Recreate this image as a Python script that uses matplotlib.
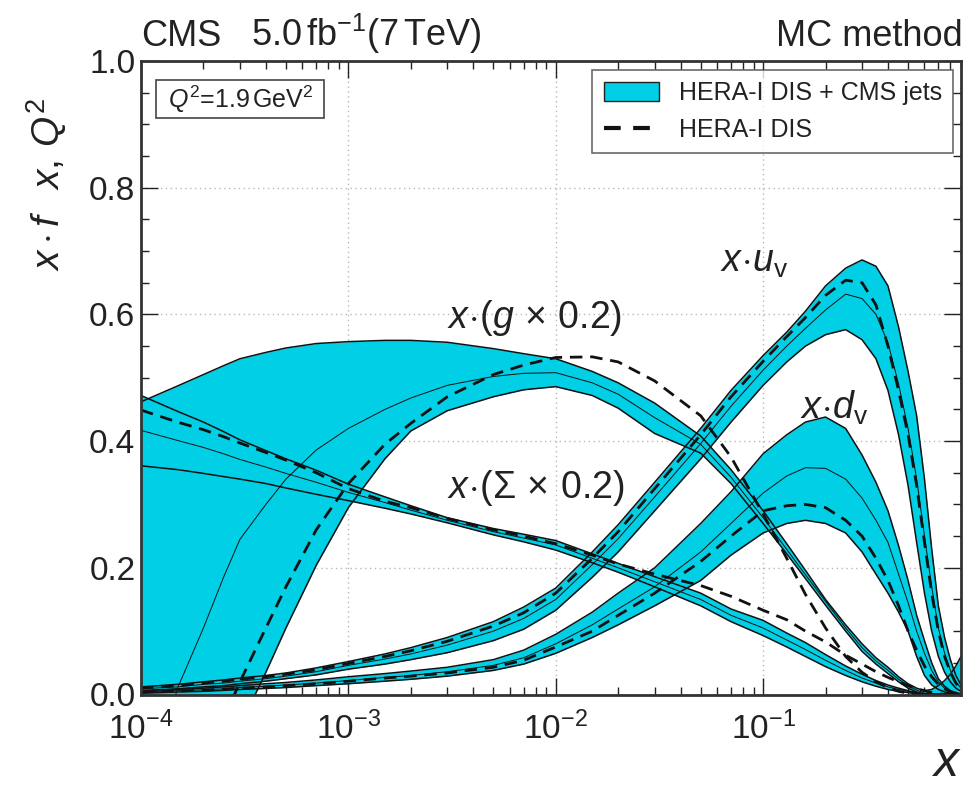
import numpy as np
import matplotlib
matplotlib.use('Agg')
import matplotlib.pyplot as plt
from matplotlib.patches import Patch, Rectangle
from matplotlib.lines import Line2D
from matplotlib.ticker import LogLocator, MultipleLocator, NullFormatter, FormatStrFormatter

plt.rcParams['font.family'] = ['Liberation Sans', 'DejaVu Sans']
plt.rcParams['mathtext.fontset'] = 'custom'
plt.rcParams['mathtext.rm'] = 'Liberation Sans'
plt.rcParams['mathtext.it'] = 'Liberation Sans:italic'
plt.rcParams['mathtext.bf'] = 'Liberation Sans:bold'

# ---------------- data ----------------
x = [1e-4, 1.5e-4, 2e-4, 2.5e-4, 3e-4, 4e-4, 5e-4, 7e-4, 1e-3, 1.5e-3, 2e-3, 3e-3, 5e-3, 7e-3,
     1e-2, 1.5e-2, 2e-2, 3e-2, 5e-2, 7e-2, 0.1, 0.13, 0.16, 0.2, 0.25, 0.3, 0.35,
     0.4, 0.45, 0.5, 0.55, 0.6, 0.65, 0.7, 0.75, 0.8, 0.85, 0.9]

# gluon x 0.2
g_hi = [0.462, 0.487, 0.505, 0.519, 0.530, 0.540, 0.547, 0.554, 0.557, 0.559, 0.559, 0.556, 0.546, 0.538,
        0.530, 0.510, 0.492, 0.460, 0.408, 0.355, 0.290, 0.238, 0.196, 0.150, 0.110, 0.080,
        0.058, 0.043, 0.028, 0.017, 0.010, 0.006, 0.008, 0.014, 0.022, 0.032, 0.045, 0.060]
g_c = [-0.20, 0.010, 0.105, 0.185, 0.245, 0.300, 0.340, 0.386, 0.420, 0.450, 0.468, 0.488, 0.502, 0.507,
       0.508, 0.492, 0.474, 0.437, 0.395, 0.343, 0.279, 0.229, 0.189, 0.147, 0.105, 0.074,
       0.053, 0.038, 0.024, 0.014, 0.007, 0.002, 0.0, 0.0, 0.0, 0.0, 0.0, 0.0]
g_lo = [-0.45, -0.30, -0.18, -0.11, -0.05, 0.035, 0.105, 0.204, 0.295, 0.372, 0.416, 0.448, 0.470, 0.481,
        0.486, 0.472, 0.452, 0.412, 0.381, 0.333, 0.270, 0.222, 0.183, 0.141, 0.100, 0.068,
        0.048, 0.033, 0.020, 0.010, 0.004, 0.0, 0.0, 0.0, 0.0, 0.0, 0.0, 0.0]
g_hera = [-0.40, -0.25, -0.10, -0.04, 0.020, 0.105, 0.170, 0.260, 0.333, 0.395, 0.428, 0.470, 0.505, 0.520,
          0.532, 0.533, 0.525, 0.495, 0.440, 0.375, 0.285, 0.215, 0.158, 0.105, 0.060, 0.035,
          0.020, 0.011, 0.005, 0.002, 0.001, 0.0, 0.0, 0.0, 0.0, 0.0, 0.0, 0.0]

# sea x 0.2
s_hi = [0.472, 0.447, 0.430, 0.415, 0.402, 0.385, 0.372, 0.354, 0.332, 0.312, 0.298, 0.279, 0.262, 0.253,
        0.243, 0.222, 0.207, 0.186, 0.160, 0.135, 0.117, 0.097, 0.082, 0.063, 0.045, 0.032,
        0.022, 0.015, 0.010, 0.006, 0.003, 0.001, 0.0, 0.0, 0.0, 0.0, 0.0, 0.0]
s_c = [0.417, 0.401, 0.390, 0.380, 0.371, 0.359, 0.349, 0.335, 0.319, 0.303, 0.291, 0.275, 0.257, 0.247,
       0.236, 0.215, 0.200, 0.178, 0.150, 0.125, 0.105, 0.086, 0.071, 0.054, 0.038, 0.026,
       0.018, 0.012, 0.008, 0.005, 0.002, 0.001, 0.0, 0.0, 0.0, 0.0, 0.0, 0.0]
s_lo = [0.361, 0.355, 0.349, 0.344, 0.340, 0.333, 0.326, 0.316, 0.306, 0.294, 0.285, 0.271, 0.252, 0.241,
        0.228, 0.208, 0.193, 0.170, 0.140, 0.115, 0.093, 0.075, 0.060, 0.044, 0.030, 0.020,
        0.013, 0.008, 0.005, 0.003, 0.001, 0.0, 0.0, 0.0, 0.0, 0.0, 0.0, 0.0]
s_hera = [0.449, 0.430, 0.418, 0.407, 0.397, 0.382, 0.370, 0.350, 0.325, 0.305, 0.295, 0.278, 0.260, 0.250,
          0.238, 0.220, 0.206, 0.190, 0.172, 0.155, 0.133, 0.118, 0.100, 0.083, 0.062, 0.048,
          0.036, 0.027, 0.020, 0.014, 0.009, 0.006, 0.003, 0.001, 0.0, 0.0, 0.0, 0.0]

# u valence
u_hi = [0.012, 0.016, 0.020, 0.023, 0.026, 0.030, 0.034, 0.042, 0.052, 0.064, 0.074, 0.090, 0.115, 0.138,
        0.168, 0.225, 0.268, 0.335, 0.420, 0.480, 0.535, 0.572, 0.605, 0.645, 0.673, 0.686,
        0.676, 0.645, 0.580, 0.510, 0.440, 0.340, 0.230, 0.140, 0.090, 0.055, 0.030, 0.015]
u_c = [0.009, 0.012, 0.016, 0.018, 0.021, 0.025, 0.029, 0.036, 0.046, 0.056, 0.064, 0.078, 0.100, 0.120,
       0.150, 0.205, 0.246, 0.312, 0.396, 0.455, 0.512, 0.550, 0.578, 0.607, 0.632, 0.625,
       0.600, 0.555, 0.490, 0.420, 0.340, 0.250, 0.170, 0.105, 0.065, 0.038, 0.020, 0.010]
u_lo = [0.006, 0.009, 0.012, 0.014, 0.017, 0.021, 0.025, 0.031, 0.040, 0.048, 0.055, 0.066, 0.085, 0.103,
        0.133, 0.185, 0.225, 0.290, 0.372, 0.430, 0.488, 0.525, 0.550, 0.568, 0.576, 0.560,
        0.530, 0.480, 0.410, 0.330, 0.240, 0.160, 0.100, 0.060, 0.035, 0.020, 0.010, 0.005]
u_hera = [0.010, 0.014, 0.018, 0.021, 0.024, 0.028, 0.032, 0.039, 0.049, 0.060, 0.069, 0.084, 0.108, 0.129,
          0.160, 0.215, 0.257, 0.325, 0.410, 0.470, 0.526, 0.565, 0.595, 0.630, 0.654, 0.650,
          0.615, 0.550, 0.480, 0.410, 0.330, 0.240, 0.160, 0.100, 0.060, 0.035, 0.018, 0.008]

# d valence
d_hi = [0.006, 0.008, 0.010, 0.012, 0.014, 0.017, 0.019, 0.023, 0.028, 0.033, 0.037, 0.043, 0.055, 0.070,
        0.095, 0.130, 0.160, 0.200, 0.270, 0.320, 0.380, 0.410, 0.430, 0.438, 0.420, 0.378,
        0.335, 0.290, 0.235, 0.180, 0.125, 0.085, 0.050, 0.025, 0.013, 0.006, 0.003, 0.001]
d_c = [0.004, 0.006, 0.0075, 0.009, 0.011, 0.013, 0.015, 0.018, 0.022, 0.027, 0.030, 0.036, 0.046, 0.058,
       0.080, 0.110, 0.135, 0.170, 0.225, 0.270, 0.318, 0.345, 0.358, 0.357, 0.340, 0.310,
       0.275, 0.240, 0.190, 0.145, 0.100, 0.065, 0.038, 0.020, 0.010, 0.005, 0.002, 0.001]
d_lo = [0.002, 0.004, 0.005, 0.0065, 0.008, 0.0095, 0.011, 0.014, 0.017, 0.021, 0.024, 0.029, 0.038, 0.048,
        0.065, 0.090, 0.110, 0.140, 0.180, 0.220, 0.255, 0.270, 0.275, 0.270, 0.255, 0.225,
        0.190, 0.160, 0.130, 0.100, 0.060, 0.030, 0.015, 0.008, 0.004, 0.002, 0.001, 0.0]
d_hera = [0.004, 0.0055, 0.007, 0.0085, 0.010, 0.012, 0.014, 0.017, 0.021, 0.026, 0.029, 0.034, 0.043, 0.054,
          0.075, 0.100, 0.125, 0.160, 0.210, 0.250, 0.290, 0.298, 0.300, 0.295, 0.275, 0.250,
          0.215, 0.180, 0.140, 0.100, 0.070, 0.045, 0.028, 0.016, 0.009, 0.004, 0.002, 0.001]

CYAN = '#00cfe6'
INK = '#222222'

# ---------------- figure ----------------
W, H = 966, 791
fig = plt.figure(figsize=(W / 100, H / 100), dpi=100)
ax_l, ax_r, ax_t, ax_b = 141, 961, 61, 694.5
ax = fig.add_axes([ax_l / W, (H - ax_b) / H, (ax_r - ax_l) / W, (ax_b - ax_t) / H])
ax.set_xscale('log')
ax.set_xlim(1e-4, 0.9)
ax.set_ylim(0, 1.0)

bands = [(g_lo, g_hi), (s_lo, s_hi), (u_lo, u_hi), (d_lo, d_hi)]
centrals = [g_c, s_c, u_c, d_c]
heras = [g_hera, s_hera, u_hera, d_hera]

for lo, hi in bands:
    ax.fill_between(x, lo, hi, color=CYAN, lw=0, zorder=2)
for lo, hi in bands:
    ax.plot(x, lo, color='#111111', lw=1.1, zorder=3)
    ax.plot(x, hi, color='#111111', lw=1.1, zorder=3)
for c in centrals:
    ax.plot(x, c, color='#111111', lw=0.7, zorder=3)
for d in heras:
    ax.plot(x, d, color='#111111', lw=2.0, ls=(0, (4.5, 2.8)), zorder=4)

# grid
ax.grid(True, which='major', ls=(0, (1, 2.5)), color='#b8b8b8', lw=1.0, zorder=1)

# ticks
ax.yaxis.set_major_locator(MultipleLocator(0.2))
ax.yaxis.set_minor_locator(MultipleLocator(0.05))
ax.xaxis.set_major_locator(LogLocator(base=10, numticks=10))
ax.xaxis.set_minor_locator(LogLocator(base=10, subs=np.arange(2, 10), numticks=20))
ax.xaxis.set_minor_formatter(NullFormatter())
ax.yaxis.set_major_formatter(FormatStrFormatter('%.1f'))
ax.tick_params(which='both', direction='in', top=True, right=True, colors='#222222')
ax.tick_params(which='major', length=12, width=1.0, labelsize=24, pad=4)
ax.tick_params(which='minor', length=6, width=1.0)
ax.tick_params(axis='x', which='major', pad=12)
for lab in ax.get_xticklabels() + ax.get_yticklabels():
    lab.set_color(INK)
for sp in ax.spines.values():
    sp.set_linewidth(2.0)
    sp.set_color('#333333')
    sp.set_zorder(6)

# header texts
fig.text(ax_l / W, 1 - 46 / H, 'CMS', fontsize=26, ha='left', va='baseline', color=INK)
fig.text(251 / W, 1 - 46 / H, r'5.0$\,$fb$^{-1}$(7$\,$TeV)', fontsize=26, ha='left',
         va='baseline', color=INK)
fig.text(963 / W, 1 - 46 / H, 'MC method', fontsize=26, ha='right', va='baseline', color=INK)

# axis titles
fig.text(47 / W, 1 - 98 / H, r'$x \cdot f\;\;\; x,\,Q^2$', fontsize=28, rotation=90,
         ha='center', va='top', color=INK)
fig.text(961 / W, 1 - 786 / H, r'$x$', fontsize=36, ha='right', va='bottom', color=INK)

# Q2 box
fig.patches.append(Rectangle((156 / W, 1 - 118 / H), 168 / W, 38 / H, transform=fig.transFigure,
                             fc='white', ec='#444444', lw=1.2, zorder=8))
fig.text(241 / W, 1 - 99 / H, r'$Q^2$=1.9$\,$GeV$^2$', fontsize=18, ha='center', va='center',
         color=INK, zorder=9)

# curve labels
lab_kw = dict(fontsize=27, ha='left', va='center', color=INK, zorder=7)
ax.text(3.0e-3, 0.594, r'$x\!\cdot\!(g\,\times\,0.2)$', **lab_kw)
ax.text(3.0e-3, 0.326, r'$x\!\cdot\!(\Sigma\,\times\,0.2)$', **lab_kw)
ax.text(6.2e-2, 0.683, r'$x\!\cdot\!u_{\rm v}$', **lab_kw)
ax.text(1.5e-1, 0.453, r'$x\!\cdot\!d_{\rm v}$', **lab_kw)

# legend
handles = [Patch(facecolor=CYAN, edgecolor='#222222', lw=1.0),
           Line2D([0], [0], color='#111111', lw=3.0, ls=(0, (4, 3)))]
labels = ['HERA-I DIS + CMS jets', 'HERA-I DIS']
leg = ax.legend(handles, labels, loc='upper right', bbox_to_anchor=(953 / W, 1 - 70 / H),
                bbox_transform=fig.transFigure, fontsize=18, frameon=True, fancybox=False,
                edgecolor='#444444', handlelength=2.2, handleheight=0.75, borderpad=0.45,
                labelspacing=0.5, handletextpad=0.8, borderaxespad=0)
leg.get_frame().set_linewidth(1.2)
for t in leg.get_texts():
    t.set_color(INK)
leg.set_zorder(8)

fig.savefig('out.png', dpi=100)
